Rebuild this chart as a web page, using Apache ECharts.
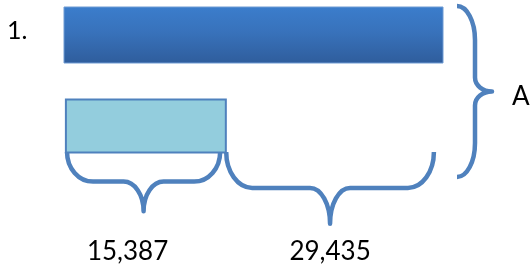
<!DOCTYPE html>
<html>
<head>
<meta charset="UTF-8">
<title>Tape diagram</title>
<script src="https://cdn.jsdelivr.net/npm/echarts@6/dist/echarts.min.js"></script>
<style>
html, body { margin: 0; padding: 0; background: #fff; }
#chart { width: 530px; height: 271px; }
</style>
</head>
<body>
<div id="chart"></div>
<script type="text/javascript">
// tape diagram rows, lengths in drawing units (the picture is not to scale)
var rows = ['whole', 'part'];
var barStart = [0, 0.5];
var barEnd = [100, 42.7];
// braces under the part bar and what they stand for
var braceStart = [0.8, 42.8];
var braceEnd = [41.2, 97.6];
var braceLabels = ['15,387', '29,435'];
var wholeLabel = 'A';
var problemNo = '1.';

var K = 0.5523;
var BLUE = '#4f81bd';
var FONT = 'Lato, "Liberation Sans", sans-serif';

var chart = echarts.init(document.getElementById('chart'));

// horizontal curly brace opening upwards, tip pointing down
function bottomBracePath(x0, x1, yT, ry) {
	var xt = (x0 + x1) / 2, yM = yT + ry, yB = yT + 2 * ry;
	var re = 26, rt = 20;
	return 'M' + x0 + ' ' + yT +
		' C' + x0 + ' ' + (yT + K * ry) + ' ' + (x0 + re - K * re) + ' ' + yM + ' ' + (x0 + re) + ' ' + yM +
		' L' + (xt - rt) + ' ' + yM +
		' C' + (xt - rt + K * rt) + ' ' + yM + ' ' + xt + ' ' + (yB - K * ry) + ' ' + xt + ' ' + yB +
		' C' + xt + ' ' + (yB - K * ry) + ' ' + (xt + rt - K * rt) + ' ' + yM + ' ' + (xt + rt) + ' ' + yM +
		' L' + (x1 - re) + ' ' + yM +
		' C' + (x1 - re + K * re) + ' ' + yM + ' ' + x1 + ' ' + (yT + K * ry) + ' ' + x1 + ' ' + yT;
}

// vertical curly brace opening left, tip pointing right
function sideBracePath(x0, yT, yB) {
	var xv = x0 + 18, xt = x0 + 35, ym = (yT + yB) / 2;
	var re = 34, rt = 14;
	return 'M' + x0 + ' ' + yT +
		' C' + (x0 + K * 18) + ' ' + yT + ' ' + xv + ' ' + (yT + re - K * re) + ' ' + xv + ' ' + (yT + re) +
		' L' + xv + ' ' + (ym - rt) +
		' C' + xv + ' ' + (ym - rt + K * rt) + ' ' + (xt - K * 17) + ' ' + ym + ' ' + xt + ' ' + ym +
		' C' + (xt - K * 17) + ' ' + ym + ' ' + xv + ' ' + (ym + rt - K * rt) + ' ' + xv + ' ' + (ym + rt) +
		' L' + xv + ' ' + (yB - re) +
		' C' + xv + ' ' + (yB - re + K * re) + ' ' + (x0 + K * 18) + ' ' + yB + ' ' + x0 + ' ' + yB;
}

chart.setOption({
	animation: false,
	grid: { left: 64, width: 379, top: 35, height: 90 },
	xAxis: { type: 'value', min: 0, max: 100, show: false },
	yAxis: { type: 'value', min: 0, max: 1, inverse: true, show: false },
	series: [{
		name: 'bars',
		type: 'custom',
		data: rows.map(function (r, i) { return [barStart[i], barEnd[i], i]; }),
		renderItem: function (params, api) {
			var i = params.dataIndex;
			var a = api.coord([api.value(0), api.value(2)]);
			var b = api.coord([api.value(1), api.value(2)]);
			if (i === 0) {
				var h = 56;
				return {
					type: 'group',
					children: [{
						type: 'rect',
						shape: { x: a[0], y: a[1] - h / 2, width: b[0] - a[0], height: h },
						style: {
							fill: new echarts.graphic.LinearGradient(0, 0, 0, 1, [
								{ offset: 0, color: '#3b7dcc' },
								{ offset: 0.45, color: '#3872bb' },
								{ offset: 1, color: '#2f5d9c' }
							]),
							stroke: '#6f9bd3',
							lineWidth: 1
						}
					}, {
						type: 'text',
						style: {
							text: problemNo, x: a[0] - 57, y: a[1] - 4,
							fill: '#000', font: '25px ' + FONT,
							align: 'left', verticalAlign: 'middle'
						}
					}]
				};
			}
			var hp = 53;
			return {
				type: 'rect',
				shape: { x: a[0], y: a[1] - hp / 2 + 1, width: b[0] - a[0], height: hp },
				style: { fill: '#93cddd', stroke: BLUE, lineWidth: 2 }
			};
		}
	}, {
		name: 'braces',
		type: 'custom',
		data: braceStart.map(function (s, i) { return [s, braceEnd[i], 1]; }),
		renderItem: function (params, api) {
			var i = params.dataIndex;
			var a = api.coord([api.value(0), api.value(2)]);
			var b = api.coord([api.value(1), api.value(2)]);
			var yT = a[1] + 27;
			var w = b[0] - a[0];
			var ry = 12 + w * 0.115;
			var shift = i === 0 ? -16 : 0;
			return {
				type: 'group',
				children: [{
					type: 'path',
					shape: { pathData: bottomBracePath(a[0], b[0], yT, ry) },
					style: { fill: null, stroke: BLUE, lineWidth: 4.5, lineCap: 'butt', lineJoin: 'round' }
				}, {
					type: 'text',
					style: {
						text: braceLabels[i], x: (a[0] + b[0]) / 2 + shift, y: yT + 100,
						fill: '#000', font: '26px ' + FONT,
						align: 'center', verticalAlign: 'middle'
					}
				}]
			};
		}
	}, {
		name: 'whole brace',
		type: 'custom',
		data: [[barEnd[0], 0, 1]],
		renderItem: function (params, api) {
			var top = api.coord([api.value(0), api.value(1)]);
			var bottom = api.coord([api.value(0), api.value(2)]);
			var x0 = top[0] + 14;
			var yT = top[1] - 29;
			var yB = bottom[1] + 52;
			return {
				type: 'group',
				children: [{
					type: 'path',
					shape: { pathData: sideBracePath(x0, yT, yB) },
					style: { fill: null, stroke: BLUE, lineWidth: 4.5, lineCap: 'butt', lineJoin: 'round' }
				}, {
					type: 'text',
					style: {
						text: wholeLabel, x: x0 + 55, y: (yT + yB) / 2 + 5,
						fill: '#000', font: '26px ' + FONT,
						align: 'left', verticalAlign: 'middle'
					}
				}]
			};
		}
	}]
});
</script>
</body>
</html>
